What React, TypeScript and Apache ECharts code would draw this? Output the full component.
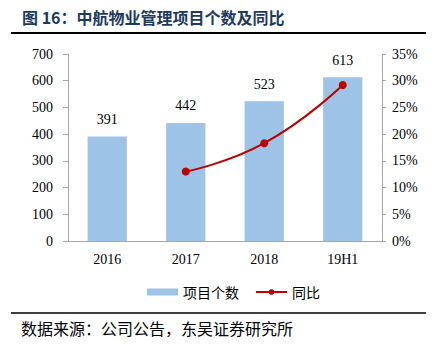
import React, { useEffect, useRef } from "react";
import * as echarts from "echarts";

const categories = ["2016", "2017", "2018", "19H1"];
const projectCounts = [391, 442, 523, 613];
const yoyGrowth: (number | null)[] = [null, 13.0, 18.3, 29.2];
const leftTicks = { min: 0, max: 700, interval: 100 };
const rightTicks = { min: 0, max: 35, interval: 5 };

const titleText = "图 16：中航物业管理项目个数及同比";
const sourceText = "数据来源：公司公告，东吴证券研究所";
const barName = "项目个数";
const lineName = "同比";

export default function App() {
  const ref = useRef<HTMLDivElement>(null);
  useEffect(() => {
    if (!ref.current) return;
    const chart = echarts.init(ref.current, null, { renderer: "svg" });
    const serif = "'Times New Roman', 'Liberation Serif', serif";
    const cjk = "'Noto Sans CJK SC', sans-serif";
    chart.setOption({
      animation: false,
      backgroundColor: "#fff",
      grid: { left: 68, right: 55, top: 54, bottom: 112 },
      legend: {
        top: 280,
        left: 142,
        itemGap: 16,
        itemWidth: 31,
        itemHeight: 7,
        textStyle: { fontFamily: cjk, fontSize: 14, color: "#000" },
        data: [
          { name: barName, icon: "rect" },
          { name: lineName },
        ],
      },
      xAxis: {
        type: "category",
        data: categories,
        axisLine: { lineStyle: { color: "#A6A6A6", width: 1 } },
        axisTick: { show: false },
        axisLabel: { color: "#000", fontFamily: serif, fontSize: 14, margin: 11 },
      },
      yAxis: [
        {
          type: "value",
          ...leftTicks,
          position: "left",
          splitLine: { show: false },
          axisLine: { show: true, lineStyle: { color: "#A6A6A6" } },
          axisTick: { show: true, length: 5, lineStyle: { color: "#A6A6A6" } },
          axisLabel: { color: "#000", fontFamily: serif, fontSize: 14, margin: 15 },
        },
        {
          type: "value",
          ...rightTicks,
          position: "right",
          splitLine: { show: false },
          axisLine: { show: true, lineStyle: { color: "#A6A6A6" } },
          axisTick: { show: true, length: 4, lineStyle: { color: "#A6A6A6" } },
          axisLabel: {
            color: "#000",
            fontFamily: serif,
            fontSize: 14,
            margin: 10,
            formatter: "{value}%",
          },
        },
      ],
      series: [
        {
          name: barName,
          type: "bar",
          data: projectCounts,
          barWidth: "50%",
          itemStyle: { color: "#9DC3E6" },
          label: {
            show: true,
            position: "top",
            distance: 10,
            color: "#000",
            fontFamily: serif,
            fontSize: 14,
          },
        },
        {
          name: lineName,
          type: "line",
          yAxisIndex: 1,
          data: yoyGrowth,
          smooth: true,
          symbol: "circle",
          symbolSize: 8,
          lineStyle: { color: "#C00000", width: 2 },
          itemStyle: { color: "#C00000" },
        },
      ],
      graphic: [
        {
          type: "text",
          left: 22,
          top: 9,
          style: {
            text: titleText,
            fontFamily: cjk,
            fontWeight: "bold",
            fontSize: 16,
            fill: "#1F3A60",
          },
        },
        {
          type: "line",
          shape: { x1: 11, y1: 33, x2: 426, y2: 33 },
          style: { stroke: "#000", lineWidth: 2 },
        },
        {
          type: "line",
          shape: { x1: 11, y1: 313, x2: 426, y2: 313 },
          style: { stroke: "#000", lineWidth: 1.5 },
        },
        {
          type: "text",
          left: 21,
          top: 320,
          style: {
            text: sourceText,
            fontFamily: cjk,
            fontSize: 16,
            fill: "#000",
          },
        },
      ],
    });
    return () => chart.dispose();
  }, []);
  return <div ref={ref} style={{ width: 437, height: 353, position: "absolute", left: 0, top: 0 }} />;
}
